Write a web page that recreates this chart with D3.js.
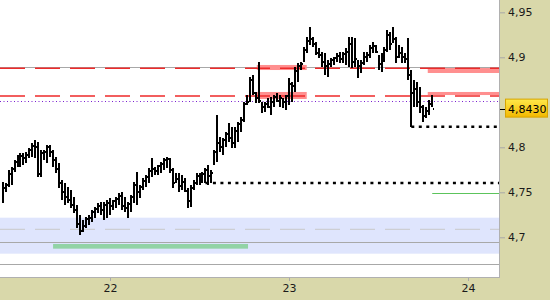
<!DOCTYPE html>
<html>
<head>
<meta charset="utf-8">
<script src="https://cdn.jsdelivr.net/npm/d3@7"></script>
<style>
  body { margin: 0; background: #fff; }
  .axis text { font-family: "DejaVu Sans", sans-serif; font-size: 11px; fill: #1a1a1a; }
</style>
</head>
<body>
<div class="vis-barchart"></div>
<script>
// ---- data ----
const dayTicks = [22, 23, 24];
const priceTicks = [4.7, 4.75, 4.8, 4.9, 4.95];
const barStart = 21.4;      // time of first bar (days)
const barsPerDay = 60;

const highs = [
  4.7615, 4.7604, 4.7748, 4.7781, 4.7859, 4.7915, 4.7937, 4.7937, 4.7948, 4.7993,
  4.8048, 4.8081, 4.8059, 4.7970, 4.7970, 4.8026, 4.8026, 4.7970, 4.7893, 4.7826,
  4.7637, 4.7604, 4.7559, 4.7526, 4.7448, 4.7359, 4.7248, 4.7193, 4.7226, 4.7248,
  4.7304, 4.7337, 4.7381, 4.7393, 4.7393, 4.7415, 4.7437, 4.7415, 4.7448, 4.7493,
  4.7504, 4.7448, 4.7393, 4.7470, 4.7615, 4.7726, 4.7581, 4.7659, 4.7693, 4.7770,
  4.7881, 4.7781, 4.7804, 4.7837, 4.7881, 4.7893, 4.7881, 4.7770, 4.7715, 4.7715,
  4.7693, 4.7659, 4.7548, 4.7581, 4.7637, 4.7715, 4.7715, 4.7726, 4.7770, 4.7804,
  4.7748, 4.7970, 4.8359, 4.8115, 4.8104, 4.8170, 4.8270, 4.8226, 4.8226, 4.8281,
  4.8337, 4.8504, 4.8581, 4.8781, 4.8804, 4.8615, 4.8948, 4.8504, 4.8504, 4.8548,
  4.8559, 4.8581, 4.8604, 4.8581, 4.8548, 4.8581, 4.8770, 4.8726, 4.8893, 4.8937,
  4.8948, 4.9115, 4.9226, 4.9337, 4.9226, 4.9170, 4.9104, 4.9059, 4.9048, 4.8970,
  4.8993, 4.9004, 4.9048, 4.9059, 4.9059, 4.9104, 4.9226, 4.9226, 4.9215, 4.8970,
  4.8970, 4.9059, 4.9059, 4.9137, 4.9170, 4.9137, 4.9026, 4.9048, 4.9115, 4.9304,
  4.9281, 4.9337, 4.9226, 4.9137, 4.9115, 4.9048, 4.9215, 4.8859, 4.8748, 4.8726,
  4.8670, 4.8470, 4.8448, 4.8526, 4.8581
];
const lows = [
  4.7381, 4.7504, 4.7559, 4.7581, 4.7726, 4.7781, 4.7781, 4.7804, 4.7826, 4.7881,
  4.7893, 4.7881, 4.7670, 4.7670, 4.7859, 4.7826, 4.7893, 4.7781, 4.7715, 4.7548,
  4.7415, 4.7359, 4.7381, 4.7326, 4.7270, 4.7104, 4.7026, 4.7059, 4.7104, 4.7137,
  4.7170, 4.7215, 4.7270, 4.7248, 4.7193, 4.7215, 4.7248, 4.7304, 4.7326, 4.7359,
  4.7304, 4.7281, 4.7215, 4.7281, 4.7381, 4.7359, 4.7437, 4.7526, 4.7559, 4.7604,
  4.7670, 4.7693, 4.7693, 4.7715, 4.7748, 4.7770, 4.7715, 4.7548, 4.7604, 4.7504,
  4.7526, 4.7504, 4.7326, 4.7337, 4.7526, 4.7581, 4.7581, 4.7604, 4.7604, 4.7581,
  4.7604, 4.7804, 4.7837, 4.7948, 4.7915, 4.8004, 4.8059, 4.7993, 4.7993, 4.8059,
  4.8170, 4.8281, 4.8470, 4.8504, 4.8581, 4.8493, 4.8493, 4.8381, 4.8393, 4.8437,
  4.8359, 4.8448, 4.8504, 4.8448, 4.8437, 4.8415, 4.8470, 4.8504, 4.8615, 4.8726,
  4.8859, 4.8948, 4.9048, 4.9137, 4.9115, 4.9026, 4.8993, 4.8893, 4.8804, 4.8781,
  4.8893, 4.8915, 4.8948, 4.8937, 4.8937, 4.8915, 4.8893, 4.8881, 4.8893, 4.8770,
  4.8826, 4.8915, 4.8948, 4.8993, 4.9048, 4.9048, 4.8859, 4.8837, 4.8948, 4.9059,
  4.9081, 4.9159, 4.8937, 4.8993, 4.8937, 4.8937, 4.8748, 4.8226, 4.8448, 4.8448,
  4.8381, 4.8281, 4.8326, 4.8359, 4.8448
];
const closes = [
  4.755, 4.758, 4.770, 4.776, 4.784, 4.789, 4.790, 4.788, 4.792, 4.797,
  4.801, 4.800, 4.770, 4.794, 4.795, 4.800, 4.795, 4.786, 4.776, 4.760,
  4.750, 4.745, 4.742, 4.736, 4.730, 4.715, 4.707, 4.713, 4.720, 4.722,
  4.728, 4.731, 4.735, 4.730, 4.736, 4.738, 4.735, 4.740, 4.743, 4.746,
  4.735, 4.733, 4.737, 4.745, 4.758, 4.750, 4.756, 4.763, 4.767, 4.774,
  4.776, 4.774, 4.779, 4.782, 4.786, 4.787, 4.775, 4.760, 4.765, 4.757,
  4.762, 4.752, 4.740, 4.755, 4.760, 4.768, 4.764, 4.770, 4.775, 4.768,
  4.772, 4.795, 4.805, 4.800, 4.808, 4.815, 4.810, 4.805, 4.818, 4.826,
  4.830, 4.848, 4.850, 4.875, 4.860, 4.855, 4.852, 4.845, 4.848, 4.845,
  4.850, 4.856, 4.852, 4.855, 4.850, 4.857, 4.870, 4.868, 4.885, 4.890,
  4.893, 4.908, 4.918, 4.920, 4.915, 4.905, 4.903, 4.895, 4.890, 4.893,
  4.897, 4.899, 4.902, 4.898, 4.904, 4.906, 4.915, 4.895, 4.898, 4.890,
  4.894, 4.900, 4.903, 4.910, 4.913, 4.906, 4.893, 4.900, 4.908, 4.925,
  4.915, 4.920, 4.900, 4.905, 4.900, 4.898, 4.880, 4.860, 4.865, 4.850,
  4.845, 4.835, 4.840, 4.848, 4.843
];

const lastPrice = 4.8430;
const grayLevels = [4.8893, 4.6945, 4.6704];
const redDashLevels = [4.8878, 4.8570];
const purpleDotLevel = 4.8515;
const blackDotLevels = [{ from: 22.533, price: 4.7604 }, { from: 23.683, price: 4.8229 }];
const greenLine = { from: 23.80, price: 4.7493 };
const blueBand = { top: 4.7218, bottom: 4.6818, mid: 4.7089 };
const greenZone = { from: 21.682, to: 22.771, top: 4.6926, bottom: 4.6874 };
const pinkZones = [
  { from: 22.820, to: 23.099, top: 4.8915, bottom: 4.8859 },
  { from: 22.820, to: 23.099, top: 4.8615, bottom: 4.8537 },
  { from: 23.775, to: 24.30, top: 4.8881, bottom: 4.8826 },
  { from: 23.775, to: 24.30, top: 4.8615, bottom: 4.8581 }
];

const draw = () => {
    const margin = { top: 0, right: 51, bottom: 23, left: 0 };
    const W = 550, H = 300;
    const width = W - margin.left - margin.right;
    const height = H - margin.top - margin.bottom;
    const panel = '#d9d8aa';

    let root = d3.select('.vis-barchart')
        .append('svg')
        .attr('width', W)
        .attr('height', H);

    root.append('rect').attr('width', W).attr('height', H).attr('fill', panel);

    let svg = root.append('g')
        .attr('transform', 'translate(' + margin.left + ',' + margin.top + ')');

    let x = d3.scaleLinear().domain([21.3855, 24.173]).range([0, width]);
    let y = d3.scaleLinear().domain([4.6559, 4.9637]).range([height, 0]);

    svg.append('defs').append('clipPath').attr('id', 'clip')
        .append('rect').attr('width', width).attr('height', height);

    svg.append('rect').attr('width', width).attr('height', height).attr('fill', '#fff');

    const plot = svg.append('g').attr('clip-path', 'url(#clip)');

    // blue band
    plot.append('rect')
        .attr('x', 0).attr('width', width)
        .attr('y', y(blueBand.top))
        .attr('height', y(blueBand.bottom) - y(blueBand.top))
        .attr('fill', '#dfe5fd');
    plot.append('line')
        .attr('x1', 0).attr('x2', width)
        .attr('y1', y(blueBand.mid)).attr('y2', y(blueBand.mid))
        .attr('stroke', '#c8c8c8').attr('stroke-dasharray', '25,10');

    // gray solid lines
    plot.selectAll('.grayline')
        .data(grayLevels)
        .join('line')
        .attr('class', 'grayline')
        .attr('x1', 0).attr('x2', width)
        .attr('y1', d => Math.round(y(d)) + 0.5).attr('y2', d => Math.round(y(d)) + 0.5)
        .attr('stroke', '#a8a8a8');

    // green zone
    plot.append('rect')
        .attr('x', x(greenZone.from)).attr('width', x(greenZone.to) - x(greenZone.from))
        .attr('y', y(greenZone.top)).attr('height', y(greenZone.bottom) - y(greenZone.top))
        .attr('fill', '#92d3a6');

    // pink zones
    plot.selectAll('.pink')
        .data(pinkZones)
        .join('rect')
        .attr('class', 'pink')
        .attr('x', d => x(d.from)).attr('width', d => x(d.to) - x(d.from))
        .attr('y', d => y(d.top)).attr('height', d => y(d.bottom) - y(d.top))
        .attr('fill', '#ff8f8f');

    // red dashed
    plot.selectAll('.reddash')
        .data(redDashLevels)
        .join('line')
        .attr('class', 'reddash')
        .attr('x1', 0).attr('x2', width)
        .attr('y1', d => y(d)).attr('y2', d => y(d))
        .attr('stroke', '#ee2a2a').attr('stroke-width', 1.5)
        .attr('stroke-dasharray', '25,10');

    // purple dotted
    plot.append('line')
        .attr('x1', 0).attr('x2', width)
        .attr('y1', Math.round(y(purpleDotLevel)) + 0.5).attr('y2', Math.round(y(purpleDotLevel)) + 0.5)
        .attr('stroke', '#7a1fd0').attr('stroke-dasharray', '1,2.5');

    // black dotted supports
    plot.selectAll('.blackdot')
        .data(blackDotLevels)
        .join('line')
        .attr('class', 'blackdot')
        .attr('x1', d => x(d.from)).attr('x2', width)
        .attr('y1', d => y(d.price)).attr('y2', d => y(d.price))
        .attr('stroke', '#000').attr('stroke-width', 2.5)
        .attr('stroke-dasharray', '3,4.5');

    // green thin line
    plot.append('line')
        .attr('x1', x(greenLine.from)).attr('x2', width)
        .attr('y1', Math.round(y(greenLine.price)) + 0.5).attr('y2', Math.round(y(greenLine.price)) + 0.5)
        .attr('stroke', '#5cc45c');

    // price bars (high-low with close tick)
    const bars = highs.map((h, i) => ({ t: barStart + i / barsPerDay, hi: h, lo: lows[i], cl: closes[i] }));
    const barG = plot.append('g').attr('shape-rendering', 'crispEdges');
    barG.selectAll('.bar')
        .data(bars)
        .join('rect')
        .attr('class', 'bar')
        .attr('x', d => Math.round(x(d.t)) - 1)
        .attr('width', 2)
        .attr('y', d => Math.round(y(d.hi)))
        .attr('height', d => Math.max(2, Math.round(y(d.lo)) - Math.round(y(d.hi))))
        .attr('fill', '#000');
    barG.selectAll('.close')
        .data(bars)
        .join('rect')
        .attr('class', 'close')
        .attr('x', d => Math.round(x(d.t)) + 1)
        .attr('width', 1)
        .attr('y', d => Math.round(y(d.cl)) - 1)
        .attr('height', 2)
        .attr('fill', '#000');

    // frame
    svg.append('line').attr('x1', width + 0.5).attr('x2', width + 0.5).attr('y1', 0).attr('y2', height)
        .attr('stroke', '#b0b0b0');
    svg.append('line').attr('x1', 0).attr('x2', width + 1).attr('y1', height + 0.5).attr('y2', height + 0.5)
        .attr('stroke', '#b0b0b0');

    // axes
    const fmt = d => String(d).replace('.', ',');
    const yAxis = svg.append('g')
        .attr('class', 'axis')
        .attr('transform', 'translate(' + (width + 1) + ',0)')
        .call(d3.axisRight(y).tickValues(priceTicks).tickFormat(fmt).tickSize(5).tickPadding(3));
    yAxis.select('.domain').remove();
    yAxis.selectAll('line').attr('stroke', '#a8a8a8');

    const xAxis = svg.append('g')
        .attr('class', 'axis')
        .attr('transform', 'translate(0,' + (height + 1) + ')')
        .call(d3.axisBottom(x).tickValues(dayTicks).tickFormat(d3.format('d')).tickSize(3).tickPadding(3));
    xAxis.select('.domain').remove();
    xAxis.selectAll('line').attr('stroke', '#a8a8a8');

    // last price marker
    const defs = root.append('defs');
    const grad = defs.append('linearGradient').attr('id', 'gold').attr('x1', 0).attr('x2', 0).attr('y1', 0).attr('y2', 1);
    grad.append('stop').attr('offset', '0%').attr('stop-color', '#ffe94a');
    grad.append('stop').attr('offset', '100%').attr('stop-color', '#f2b800');

    const ly = y(lastPrice);
    svg.append('line')
        .attr('x1', width + 1).attr('x2', width + 6)
        .attr('y1', Math.round(ly) + 0.5).attr('y2', Math.round(ly) + 0.5)
        .attr('stroke', '#000');
    svg.append('rect')
        .attr('x', width + 6.5).attr('y', ly - 9.5)
        .attr('width', 42).attr('height', 18)
        .attr('fill', 'url(#gold)').attr('stroke', '#d7a400');
    svg.append('text')
        .attr('class', 'axis')
        .attr('x', width + 9).attr('y', ly + 4)
        .style('font-family', '"DejaVu Sans", sans-serif').style('font-size', '11px')
        .attr('fill', '#000')
        .text(fmt(lastPrice.toFixed(4)));

    return svg;
}

draw();
</script>
</body>
</html>
